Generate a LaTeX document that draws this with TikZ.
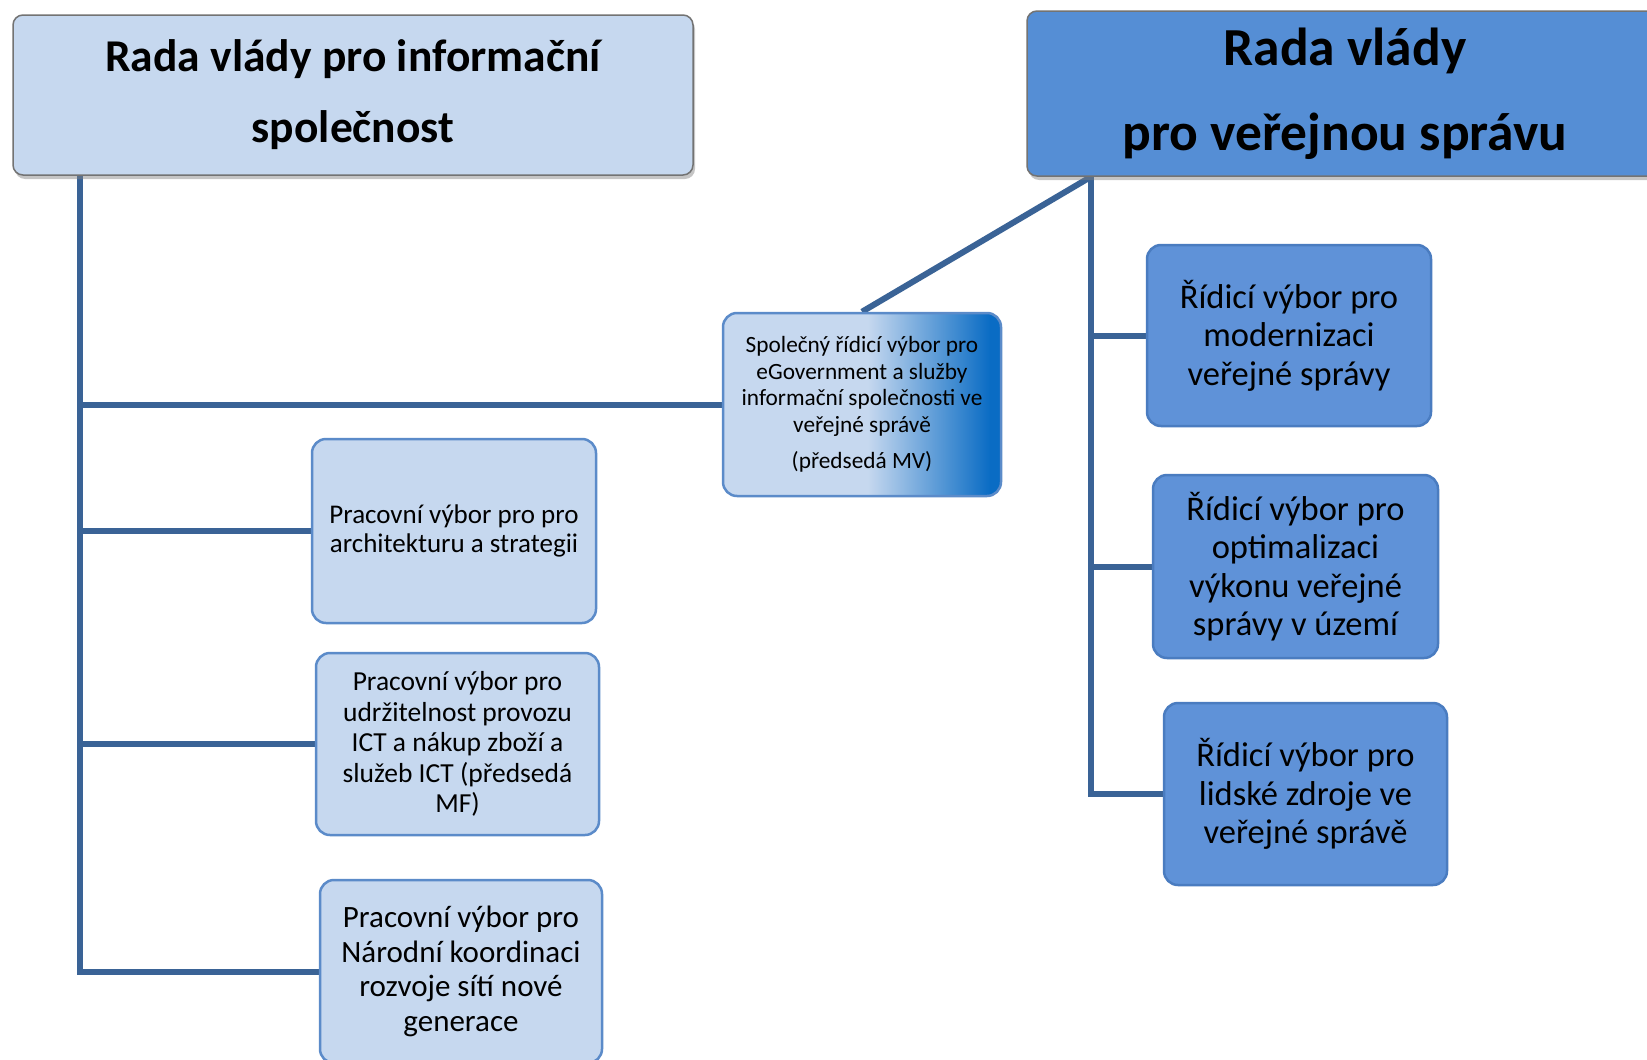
\documentclass[tikz,border=0pt]{standalone}
\usepackage{fontspec}
\setmainfont{Carlito}
\usetikzlibrary{shadows,backgrounds}
\definecolor{lightbox}{HTML}{C6D8EF}
\definecolor{lightborder}{HTML}{5B8BC9}
\definecolor{darkbox}{HTML}{5F92D8}
\definecolor{darkborder}{HTML}{4A7CC0}
\definecolor{topdark}{HTML}{558ED5}
\definecolor{linec}{HTML}{3A6396}
\definecolor{gradD}{HTML}{0A6CC4}
\pgfdeclarehorizontalshading{midshade}{100bp}{color(0bp)=(lightbox); color(51bp)=(lightbox); color(73bp)=(gradD); color(100bp)=(gradD)}
\tikzset{
  topbox/.style={draw=black!55, line width=1.5pt, rounded corners=10pt,
    drop shadow={shadow xshift=2pt, shadow yshift=-4pt, opacity=0.45},
    align=center, inner sep=0pt},
  lightnode/.style={fill=lightbox, draw=lightborder, line width=2.5pt, rounded corners=14pt,
    align=center, inner sep=0pt},
  darknode/.style={fill=darkbox, draw=darkborder, line width=2.5pt, rounded corners=14pt,
    align=center, inner sep=0pt},
  conn/.style={draw=linec, line width=6pt},
}
\begin{document}
\begin{tikzpicture}[x=1pt,y=-1pt]
\useasboundingbox (0,0) rectangle (1647,1060);
\clip (0,0) rectangle (1647,1060);

\node[topbox, fill=lightbox, minimum width=680pt, minimum height=160pt,
  font=\fontsize{45.5}{71}\selectfont\bfseries] (TL) at (353,95)
  {Rada vlády pro informační\\společnost};
\node[topbox, fill=topdark, minimum width=636pt, minimum height=165pt,
  font=\fontsize{53.5}{85}\selectfont\bfseries] (TR) at (1345,93.5)
  {Rada vlády\\pro veřejnou správu};

\node[lightnode, shading=midshade, draw=lightborder, minimum width=278pt, minimum height=183pt,
  font=\fontsize{23.3}{26.5}\selectfont] (M) at (862,404.5)
  {Společný řídicí výbor pro\\eGovernment a služby\\informační společnosti ve\\veřejné správě\\[10pt](předsedá MV)};

\node[lightnode, minimum width=284pt, minimum height=184pt,
  font=\fontsize{27}{29.5}\selectfont] (A) at (454,531)
  {Pracovní výbor pro pro\\architekturu a strategii};
\node[lightnode, minimum width=283pt, minimum height=182pt,
  font=\fontsize{27.5}{30.5}\selectfont] (B) at (457.5,744)
  {Pracovní výbor pro\\udržitelnost provozu\\ICT a nákup zboží a\\služeb ICT (předsedá\\MF)};
\node[lightnode, minimum width=282pt, minimum height=183pt,
  font=\fontsize{31}{34.7}\selectfont] (C) at (461,971.5)
  {Pracovní výbor pro\\Národní koordinaci\\rozvoje sítí nové\\generace};

\node[darknode, minimum width=284pt, minimum height=181pt,
  font=\fontsize{34.5}{38.5}\selectfont] (R1) at (1289,335.5)
  {Řídicí výbor pro\\modernizaci\\veřejné správy};
\node[darknode, minimum width=285pt, minimum height=183pt,
  font=\fontsize{34.5}{38.5}\selectfont] (R2) at (1295.5,566.5)
  {Řídicí výbor pro\\optimalizaci\\výkonu veřejné\\správy v území};
\node[darknode, minimum width=283pt, minimum height=182pt,
  font=\fontsize{34.5}{38.5}\selectfont] (R3) at (1305.5,794)
  {Řídicí výbor pro\\lidské zdroje ve\\veřejné správě};

\coordinate (tl) at (80,972);
\coordinate (tr) at (1091,795);

\begin{scope}[on background layer]
  \fill[white] (0,0) rectangle (1647,1060);
  \draw[conn] (TL.south -| tl) -- (C.west -| tl) -- (C.west);
  \draw[conn] (M.west -| tl) -- (M.west);
  \draw[conn] (A.west -| tl) -- (A.west);
  \draw[conn] (B.west -| tl) -- (B.west);
  \draw[conn] (TR.south -| tr) -- (R3.west -| tr) -- (R3.west);
  \draw[conn] (R1.west -| tr) -- (R1.west);
  \draw[conn] (R2.west -| tr) -- (R2.west);
  \draw[conn] (M.north) -- (TR.south -| tr);
\end{scope}
\end{tikzpicture}
\end{document}
